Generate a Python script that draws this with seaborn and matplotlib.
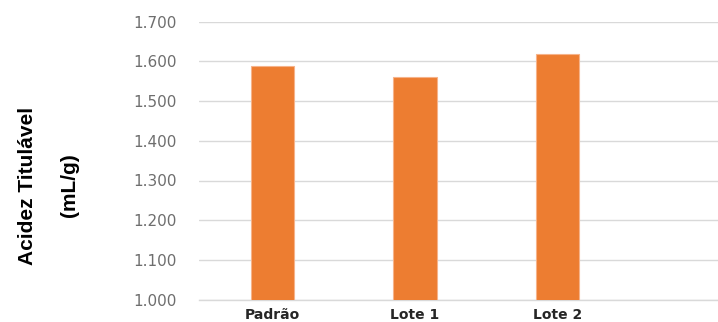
import matplotlib
matplotlib.use("Agg")
import matplotlib.pyplot as plt
import seaborn as sns
import pandas as pd

categories = ["Padrão", "Lote 1", "Lote 2"]
values = [1.589, 1.561, 1.619]
yticks = [1.0, 1.1, 1.2, 1.3, 1.4, 1.5, 1.6, 1.7]
ytick_labels = ["1.000", "1.100", "1.200", "1.300", "1.400", "1.500", "1.600", "1.700"]
ylabel = "Acidez Titulável\n(mL/g)"

sns.set_theme(style="white")
plt.rcParams["font.family"] = ["DejaVu Sans"]

df = pd.DataFrame({"cat": categories, "val": values})

fig = plt.figure(figsize=(7.18, 3.22), dpi=100)
ax = fig.add_axes([199 / 718, 1 - 299.6 / 322, 519 / 718, (299.6 - 21.7) / 322])

sns.barplot(data=df, x="cat", y="val", color="#ED7D31", saturation=1,
            width=0.306, ax=ax, edgecolor="#F6B38A", linewidth=0.8, zorder=3)

ax.set_ylim(1.0, 1.7)
ax.set_xlim(-0.516, 3.126)
ax.set_yticks(yticks)
ax.set_yticklabels(ytick_labels, color="#6E6E6E", fontsize=11)
ax.tick_params(axis="y", length=0, pad=16)
ax.tick_params(axis="x", length=0, pad=6)
for lbl in ax.get_xticklabels():
    lbl.set_fontweight("bold")
    lbl.set_fontsize(10)
    lbl.set_color("#262626")

ax.yaxis.grid(True, color="#D9D9D9", linewidth=1, zorder=0)
ax.set_axisbelow(True)
for s in ["left", "right", "top"]:
    ax.spines[s].set_visible(False)
ax.spines["bottom"].set_color("#D9D9D9")
ax.spines["bottom"].set_linewidth(1)
ax.set_xlabel("")
ax.set_ylabel("")

fig.text(48.5 / 718, 1 - 185.5 / 322, ylabel, rotation=90, ha="center", va="center",
         multialignment="center", fontsize=15, fontweight="bold", linespacing=2.5,
         family=["Liberation Sans", "DejaVu Sans"], color="#000000")

fig.savefig("out.png", dpi=100)
